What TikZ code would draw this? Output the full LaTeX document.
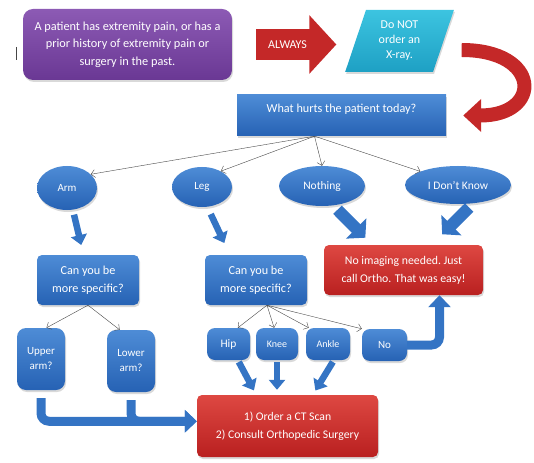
\documentclass[tikz,border=0pt]{standalone}
\usepackage{fontspec}
\setmainfont{Carlito}
\usetikzlibrary{arrows.meta}
\usetikzlibrary{shapes.geometric}
\usetikzlibrary{shadows}

\definecolor{blueTop}{RGB}{78,140,214}
\definecolor{blueBot}{RGB}{38,98,180}
\definecolor{redTop}{RGB}{222,72,66}
\definecolor{redBot}{RGB}{185,32,32}
\definecolor{purpleTop}{RGB}{140,90,180}
\definecolor{purpleBot}{RGB}{106,56,148}
\definecolor{cyanTop}{RGB}{60,196,224}
\definecolor{cyanBot}{RGB}{30,160,196}
\definecolor{arrowblue}{RGB}{52,116,196}
\definecolor{arrowred}{RGB}{196,40,40}
\definecolor{linegray}{RGB}{70,70,70}

\begin{document}
\begin{tikzpicture} [x=1pt, y=-1pt,
  softshadow/.style={drop shadow={opacity=0.3, shadow xshift=1pt, shadow yshift=-2pt}},
  box/.style={rectangle, rounded corners=5pt, text=white, align=center, inner sep=0pt, softshadow},
  bluebox/.style={box, top color=blueTop, bottom color=blueBot},
  redbox/.style={box, top color=redTop, bottom color=redBot},
  oval/.style={ellipse, text=white, inner sep=0pt, top color=blueTop, bottom color=blueBot, softshadow},
  thinarrow/.style={draw=linegray, thin, -{Straight Barb[length=4pt,width=8pt]}},
  blockarrow/.style={draw=arrowblue, line width=6.5pt, -{Triangle[width=16pt,length=10pt]}},
  fatarrow/.style={draw=arrowblue, line width=12pt, -{Triangle[width=28pt,length=13pt]}},
  bentarrow/.style={draw=arrowblue, line width=9pt, rounded corners=8pt, -{Triangle[width=22pt,length=12pt]}},
  bigarrow/.style={draw=arrowred, line width=31pt, -{Triangle[width=57pt,length=27pt]}},
  redcurve/.style={draw=arrowred, line width=14pt, -{Triangle[width=32pt,length=18pt]}}]
\useasboundingbox (0,0) rectangle (534,462);

\draw[linegray, thin] (16,47) -- (16,60);

\node[box, top color=purpleTop, bottom color=purpleBot, rounded corners=10pt,
  minimum width=209pt, minimum height=71pt, font=\fontsize{12.3}{17.5}\selectfont]
  (start) at (127.5,44.5) {A patient has extremity pain, or has a\\prior history of extremity pain or\\surgery in the past.};
\node[trapezium, trapezium left angle=72, trapezium right angle=108, trapezium stretches=true,
  minimum width=109pt, minimum height=62pt, top color=cyanTop, bottom color=cyanBot,
  text=white, align=center, inner sep=0pt, softshadow, font=\fontsize{12}{15}\selectfont]
  (noxray) at (399.5,41) {Do NOT\\order an\\X-ray.};
\node[bluebox, rounded corners=0pt, minimum width=209pt, minimum height=41pt, text depth=15pt,
  font=\fontsize{12.2}{14}\selectfont] (hurts) at (341.5,115.5) {What hurts the patient today?};

\node[oval, minimum width=60pt, minimum height=44pt, font=\fontsize{11}{13}\selectfont] (arm) at (67,188) {Arm};
\node[oval, minimum width=60pt, minimum height=40pt, font=\fontsize{11}{13}\selectfont] (leg) at (202,187) {Leg};
\node[oval, minimum width=86pt, minimum height=40pt, font=\fontsize{11.5}{13}\selectfont] (nothing) at (322,186) {Nothing};
\node[oval, minimum width=106pt, minimum height=38pt, font=\fontsize{11.5}{13}\selectfont] (idk) at (458,185) {I Don’t Know};

\node[bluebox, minimum width=102pt, minimum height=50pt, font=\fontsize{12.2}{18.5}\selectfont]
  (armq) at (88,280) {Can you be\\more specific?};
\node[bluebox, minimum width=102pt, minimum height=50pt, font=\fontsize{12.2}{18.5}\selectfont]
  (legq) at (256,280) {Can you be\\more specific?};
\node[redbox, minimum width=159pt, minimum height=50pt, font=\fontsize{11.8}{18}\selectfont]
  (noimg) at (403.5,270) {No imaging needed.\ Just\\call Ortho. That was easy!};

\node[bluebox, rounded corners=9pt, minimum width=48pt, minimum height=62pt, font=\fontsize{11}{15}\selectfont]
  (upper) at (41,359) {Upper\\arm?};
\node[bluebox, rounded corners=9pt, minimum width=48pt, minimum height=62pt, font=\fontsize{11}{15}\selectfont]
  (lower) at (131,361) {Lower\\arm?};
\node[bluebox, rounded corners=8pt, minimum width=43pt, minimum height=32pt, font=\fontsize{11.5}{13}\selectfont] (hip) at (228.5,344) {Hip};
\node[bluebox, rounded corners=8pt, minimum width=42pt, minimum height=32pt, font=\fontsize{10}{12}\selectfont] (knee) at (277,344) {Knee};
\node[bluebox, rounded corners=8pt, minimum width=44pt, minimum height=32pt, font=\fontsize{10}{12}\selectfont] (ankle) at (328,344) {Ankle};
\node[bluebox, rounded corners=8pt, minimum width=45pt, minimum height=32pt, font=\fontsize{11}{13}\selectfont] (no) at (384.5,345) {No};
\node[redbox, minimum width=181pt, minimum height=62pt, font=\fontsize{11.7}{17.5}\selectfont]
  (ct) at (287.5,426) {1) Order a CT Scan\\2) Consult Orthopedic Surgery};

\draw[bigarrow, shorten <=24pt, shorten >=19pt] (start.east) -- (start.east -| noxray.west)
  node[pos=0.45, text=white, font=\fontsize{12}{14}\selectfont] (always) {ALWAYS};
\draw[redcurve] ([xshift=18pt,yshift=-9pt]noxray.east) to[out=0, in=0, looseness=3.1] ([xshift=17pt]hurts.east);

\foreach \t in {arm.30, leg.40, nothing.north, idk.north west}
  \draw[thinarrow] ([xshift=-27pt]hurts.south) -- (\t);
\foreach \t in {upper.80, lower.110}
  \draw[thinarrow] (armq.south) -- (\t);
\foreach \t in {hip.60, knee.100, ankle.140, no.north west}
  \draw[thinarrow] ([xshift=11pt]legq.south) -- (\t);

\draw[blockarrow, shorten <=5pt, shorten >=10pt] (arm.-75) -- (armq.100);
\draw[blockarrow, shorten <=8pt, shorten >=13pt] (leg.-75) -- (legq.136);
\draw[fatarrow, shorten <=6pt, shorten >=10pt] (nothing.-60) -- (noimg.141);
\draw[fatarrow, shorten <=6pt, shorten >=15pt] (idk.-50) -- (noimg.42);
\draw[blockarrow, shorten <=2pt, shorten >=5pt] (hip.-60) -- (ct.135);
\draw[blockarrow, shorten <=2pt, shorten >=5pt] (knee.south) -- (knee.south |- ct.north);
\draw[blockarrow, shorten <=2pt, shorten >=5pt] (ankle.-70) -- (ct.51);
\draw[bentarrow] ([yshift=-8pt]upper.south) |- (ct.177);
\draw[bentarrow] ([yshift=-8pt]lower.south) |- (ct.177);
\draw[bentarrow] (no.east) -| ([xshift=36pt]noimg.south);
\end{tikzpicture}
\end{document}
